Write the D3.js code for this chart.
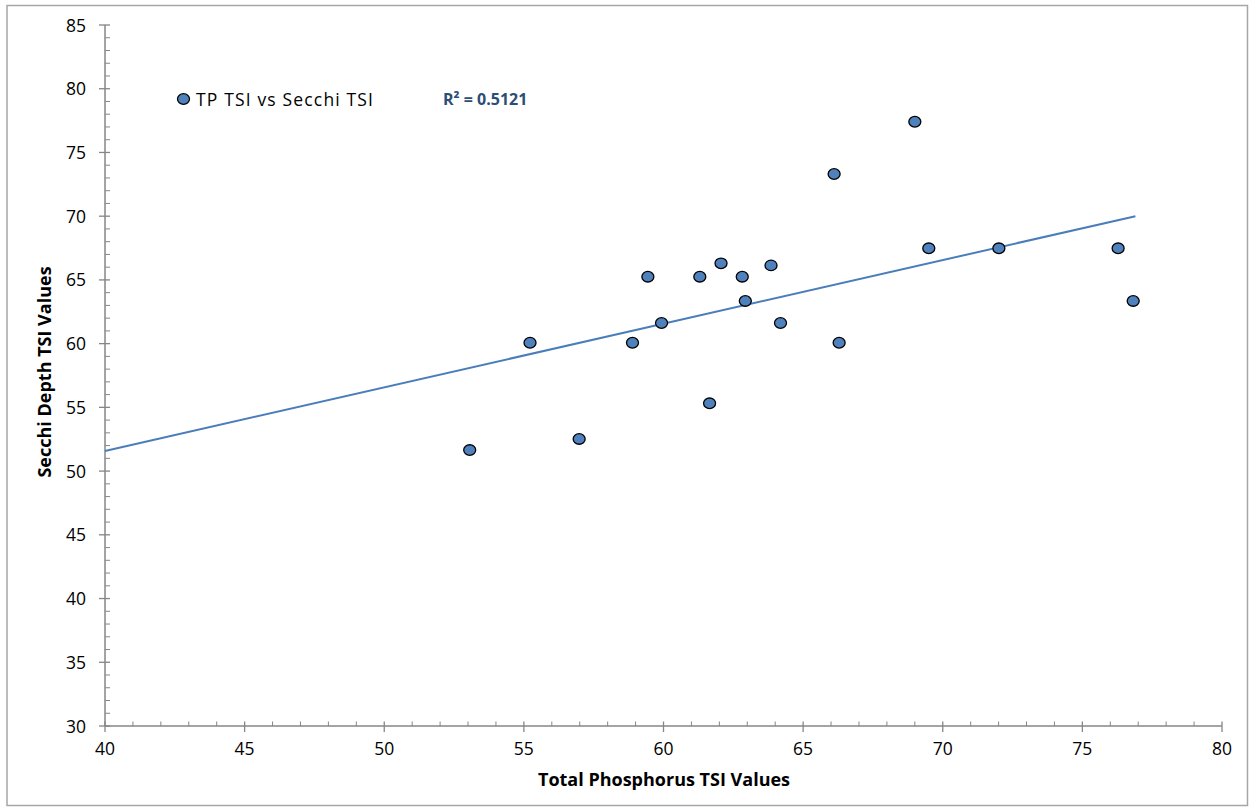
<!DOCTYPE html>
<html><head><meta charset="utf-8">
<script src="https://cdn.jsdelivr.net/npm/d3@7"></script>
<style>body{margin:0;background:#fff}svg{display:block}</style>
</head><body>
<script>
// Data
const tpTSI = [53.06,55.22,56.98,58.89,59.44,59.93,61.30,61.65,62.06,62.82,62.93,63.85,64.19,66.11,66.29,69.00,69.50,72.01,76.28,76.82];
const secchiTSI = [51.65,60.07,52.52,60.07,65.25,61.62,65.25,55.32,66.30,65.25,63.35,66.14,61.62,73.31,60.07,77.41,67.48,67.48,67.48,63.35];
const xTicks = [40,45,50,55,60,65,70,75,80];
const yTicks = [30,35,40,45,50,55,60,65,70,75,80,85];
// linear trendline as shown in the chart
const trendX = [40, 76.9];
const trendY = [51.58, 70.0];
const seriesName = "TP TSI vs Secchi TSI";
const r2Label = "R² = 0.5121";
const xTitle = "Total Phosphorus TSI Values";
const yTitle = "Secchi Depth TSI Values";

const W = 1252, H = 810;
const svg = d3.select("body").append("svg").attr("width", W).attr("height", H);
const font = "'Open Sans', 'Liberation Sans', sans-serif";

// chart border
svg.append("rect").attr("x",7).attr("y",5.5).attr("width",1240.5).attr("height",800)
  .attr("fill","none").attr("stroke","#a6a6a6").attr("stroke-width",1.5);

const x = d3.scaleLinear().domain([40,80]).range([105,1222]);
const y = d3.scaleLinear().domain([30,85]).range([726,25]);
const axisColor = "#868686";

// minor ticks
const xMinor = d3.range(40,80.001,1).filter(v => v % 5 !== 0);
const yMinor = d3.range(30,85.001,1).filter(v => v % 5 !== 0);
const g = svg.append("g");
g.selectAll(".xm").data(xMinor).join("line")
  .attr("x1",d=>x(d)).attr("x2",d=>x(d)).attr("y1",y(30)).attr("y2",y(30)-4.5)
  .attr("stroke",axisColor).attr("stroke-width",1);
g.selectAll(".ym").data(yMinor).join("line")
  .attr("y1",d=>y(d)).attr("y2",d=>y(d)).attr("x1",x(40)).attr("x2",x(40)+5)
  .attr("stroke",axisColor).attr("stroke-width",1);

// major ticks crossing axis
g.selectAll(".xM").data(xTicks).join("line")
  .attr("x1",d=>x(d)).attr("x2",d=>x(d)).attr("y1",y(30)-4.5).attr("y2",y(30)+6)
  .attr("stroke",axisColor).attr("stroke-width",1.3);
g.selectAll(".yM").data(yTicks).join("line")
  .attr("y1",d=>y(d)).attr("y2",d=>y(d)).attr("x1",x(40)-6).attr("x2",x(40)+5)
  .attr("stroke",axisColor).attr("stroke-width",1.3);

// axis lines
g.append("line").attr("x1",x(40)).attr("x2",x(80)).attr("y1",y(30)).attr("y2",y(30))
  .attr("stroke",axisColor).attr("stroke-width",1.5);
g.append("line").attr("x1",x(40)).attr("x2",x(40)).attr("y1",y(30)).attr("y2",y(85))
  .attr("stroke",axisColor).attr("stroke-width",1.5);

// tick labels
g.selectAll(".xl").data(xTicks).join("text")
  .attr("x",d=>x(d)).attr("y",y(30)+29).attr("text-anchor","middle")
  .attr("font-family",font).attr("font-size",17.5).attr("fill","#000").text(d=>d);
g.selectAll(".yl").data(yTicks).join("text")
  .attr("x",86).attr("y",d=>y(d)+6.5).attr("text-anchor","end")
  .attr("font-family",font).attr("font-size",17.5).attr("fill","#000").text(d=>d);

// axis titles
svg.append("text").attr("x",664).attr("y",786).attr("text-anchor","middle")
  .attr("font-family",font).attr("font-weight","bold").attr("font-size",18).text(xTitle);
svg.append("text").attr("transform","translate(51,372) rotate(-90)").attr("text-anchor","middle")
  .attr("font-family",font).attr("font-weight","bold").attr("font-size",18).text(yTitle);

// trendline
svg.append("line").attr("x1",x(trendX[0])).attr("y1",y(trendY[0]))
  .attr("x2",x(trendX[1])).attr("y2",y(trendY[1]))
  .attr("stroke","#4a7ebb").attr("stroke-width",2);

// points
const pts = tpTSI.map((v,i)=>[v,secchiTSI[i]]);
svg.selectAll(".pt").data(pts).join("ellipse")
  .attr("cx",d=>x(d[0])).attr("cy",d=>y(d[1])).attr("rx",6).attr("ry",5.3)
  .attr("fill","#4f81bd").attr("stroke","#000").attr("stroke-width",1.3);

// legend
svg.append("ellipse").attr("cx",183.5).attr("cy",99).attr("rx",6).attr("ry",5.3)
  .attr("fill","#4f81bd").attr("stroke","#000").attr("stroke-width",1.3);
svg.append("text").attr("x",196).attr("y",105.5).attr("font-family",font).attr("font-size",17.5)
  .attr("textLength",177).attr("lengthAdjust","spacing")
  .attr("fill","#000").text(seriesName);
svg.append("text").attr("x",443).attr("y",105).attr("font-family",font).attr("font-size",16)
  .attr("font-weight","bold").attr("fill","#2c4d75").text(r2Label);
</script>
</body></html>
